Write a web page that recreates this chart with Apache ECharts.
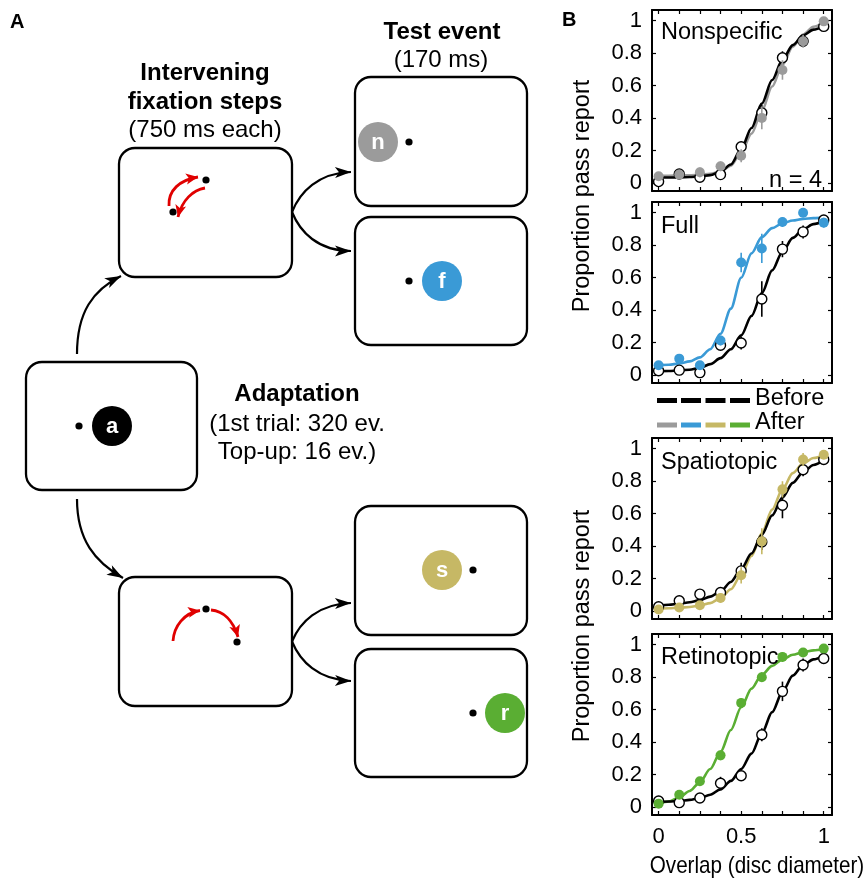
<!DOCTYPE html>
<html><head><meta charset="utf-8">
<script src="https://cdn.jsdelivr.net/npm/echarts@6/dist/echarts.min.js"></script>
<style>html,body{margin:0;padding:0;background:#fff}#c{width:867px;height:880px}</style>
</head><body><div id="c"></div>
<script>
// ---------- DATA ----------
const xLevels = [0, 0.125, 0.25, 0.375, 0.5, 0.625, 0.75, 0.875, 1];
const curveX = [0, 0.0625, 0.125, 0.1875, 0.25, 0.3125, 0.375, 0.4375, 0.5, 0.5625, 0.625, 0.6875, 0.75, 0.8125, 0.875, 0.9375, 1];
const xTickLabels = [0, 0.5, 1];
const yTickLabels = [0, 0.2, 0.4, 0.6, 0.8, 1];
const panelNames = ['Nonspecific', 'Full', 'Spatiotopic', 'Retinotopic'];
const afterColors = ['#9b9b9b', '#3a9ad6', '#c6b865', '#5aae33'];

const nonspecificBefore = [0.01, 0.057, 0.037, 0.053, 0.224, 0.433, 0.772, 0.874, 0.965];
const nonspecificBeforeErr = [0.01, 0.01, 0.01, 0.02, 0.03, 0.05, 0.04, 0.03, 0.01];
const nonspecificAfter = [0.043, 0.053, 0.067, 0.104, 0.169, 0.402, 0.697, 0.874, 0.996];
const nonspecificAfterErr = [0.01, 0.01, 0.03, 0.03, 0.04, 0.07, 0.06, 0.04, 0.01];
const nonspecificBeforeFit = [0.035, 0.035, 0.036, 0.038, 0.042, 0.05, 0.07, 0.115, 0.21, 0.34, 0.49, 0.635, 0.76, 0.85, 0.91, 0.945, 0.965];
const nonspecificAfterFit = [0.045, 0.046, 0.047, 0.049, 0.052, 0.058, 0.072, 0.108, 0.19, 0.305, 0.445, 0.595, 0.73, 0.84, 0.915, 0.963, 0.99];

const fullBefore = [0.027, 0.031, 0.016, 0.184, 0.198, 0.469, 0.776, 0.882, 0.955];
const fullBeforeErr = [0.01, 0.01, 0.01, 0.02, 0.04, 0.11, 0.05, 0.04, 0.02];
const fullAfter = [0.061, 0.102, 0.061, 0.214, 0.694, 0.78, 0.943, 1.0, 0.939];
const fullAfterErr = [0.02, 0.02, 0.02, 0.03, 0.06, 0.09, 0.03, 0.02, 0.03];
const fullBeforeFit = [0.025, 0.026, 0.029, 0.034, 0.045, 0.068, 0.105, 0.16, 0.245, 0.365, 0.505, 0.645, 0.76, 0.845, 0.898, 0.93, 0.949];
const fullAfterFit = [0.061, 0.064, 0.072, 0.085, 0.11, 0.16, 0.255, 0.41, 0.6, 0.75, 0.85, 0.905, 0.935, 0.952, 0.962, 0.967, 0.97];

const spatiotopicBefore = [0.027, 0.064, 0.105, 0.115, 0.248, 0.426, 0.652, 0.871, 0.934];
const spatiotopicBeforeErr = [0.01, 0.02, 0.02, 0.03, 0.05, 0.05, 0.08, 0.04, 0.03];
const spatiotopicAfter = [0.01, 0.023, 0.037, 0.082, 0.221, 0.43, 0.75, 0.934, 0.963];
const spatiotopicAfterErr = [0.01, 0.01, 0.01, 0.03, 0.05, 0.08, 0.05, 0.04, 0.02];
const spatiotopicBeforeFit = [0.035, 0.04, 0.046, 0.055, 0.068, 0.09, 0.122, 0.18, 0.26, 0.355, 0.47, 0.59, 0.7, 0.79, 0.855, 0.9, 0.93];
const spatiotopicAfterFit = [0.016, 0.018, 0.021, 0.026, 0.035, 0.05, 0.08, 0.135, 0.225, 0.34, 0.48, 0.625, 0.75, 0.85, 0.91, 0.943, 0.96];

const retinotopicBefore = [0.038, 0.028, 0.057, 0.147, 0.194, 0.446, 0.713, 0.875, 0.915];
const retinotopicBeforeErr = [0.01, 0.01, 0.02, 0.04, 0.02, 0.04, 0.06, 0.04, 0.02];
const retinotopicAfter = [0.022, 0.077, 0.16, 0.319, 0.642, 0.8, 0.925, 0.952, 0.976];
const retinotopicAfterErr = [0.01, 0.02, 0.02, 0.03, 0.03, 0.03, 0.03, 0.02, 0.01];
const retinotopicBeforeFit = [0.033, 0.035, 0.038, 0.045, 0.056, 0.077, 0.11, 0.162, 0.235, 0.33, 0.455, 0.585, 0.71, 0.81, 0.875, 0.91, 0.93];
const retinotopicAfterFit = [0.022, 0.035, 0.06, 0.1, 0.153, 0.235, 0.34, 0.475, 0.615, 0.73, 0.815, 0.87, 0.91, 0.938, 0.955, 0.965, 0.972];

// ---------- BUILD ----------
const panels = [
  {before: nonspecificBefore, beforeErr: nonspecificBeforeErr, after: nonspecificAfter, afterErr: nonspecificAfterErr, beforeFit: nonspecificBeforeFit, afterFit: nonspecificAfterFit},
  {before: fullBefore, beforeErr: fullBeforeErr, after: fullAfter, afterErr: fullAfterErr, beforeFit: fullBeforeFit, afterFit: fullAfterFit},
  {before: spatiotopicBefore, beforeErr: spatiotopicBeforeErr, after: spatiotopicAfter, afterErr: spatiotopicAfterErr, beforeFit: spatiotopicBeforeFit, afterFit: spatiotopicAfterFit},
  {before: retinotopicBefore, beforeErr: retinotopicBeforeErr, after: retinotopicAfter, afterErr: retinotopicAfterErr, beforeFit: retinotopicBeforeFit, afterFit: retinotopicAfterFit}
];
const FONT = '"Liberation Sans", Arial, Helvetica, sans-serif';
const gridTops = [10, 202, 438, 634];
const grids = [], xAxes = [], yAxes = [], series = [];

panels.forEach((p, i) => {
  grids.push({left: 652, top: gridTops[i], width: 180, height: 181, show: false});
  const lineSt = {color: '#000', width: 2};
  const tickSt = {color: '#000', width: 1.2};
  ['bottom', 'top'].forEach((pos, j) => {
    xAxes.push({
      type: 'value', gridIndex: i, position: pos, min: -0.04, max: 1.05,
      axisLine: {show: true, onZero: false, lineStyle: lineSt},
      axisTick: {show: true, inside: true, length: 4, lineStyle: tickSt, customValues: xLevels},
      axisLabel: {show: (i === 3 && j === 0), customValues: xTickLabels, margin: 11, color: '#000', fontSize: 22, fontFamily: FONT},
      splitLine: {show: false}
    });
  });
  ['left', 'right'].forEach((pos, j) => {
    yAxes.push({
      type: 'value', gridIndex: i, position: pos, min: -0.048, max: 1.066,
      axisLine: {show: true, onZero: false, lineStyle: lineSt},
      axisTick: {show: true, inside: true, length: 4, lineStyle: tickSt, customValues: yTickLabels},
      axisLabel: {show: j === 0, customValues: yTickLabels, margin: 10, color: '#000', fontSize: 22, fontFamily: FONT},
      splitLine: {show: false}
    });
  });
  const xi = 2 * i, yi = 2 * i;
  const col = afterColors[i];
  const fitSeries = (vals, color, z) => ({
    type: 'line', xAxisIndex: xi, yAxisIndex: yi, data: curveX.map((x, k) => [x, vals[k]]),
    smooth: 0.3, smoothMonotone: 'x', symbol: 'none', silent: true, z: z,
    lineStyle: {color: color, width: 2.6}
  });
  const errSeries = (vals, errs, color, z) => ({
    type: 'custom', xAxisIndex: xi, yAxisIndex: yi, silent: true, z: z,
    data: xLevels.map((x, k) => [x, vals[k] - errs[k], vals[k] + errs[k]]),
    encode: {x: 0, y: [1, 2]},
    renderItem: (params, api) => {
      const lo = api.coord([api.value(0), api.value(1)]);
      const hi = api.coord([api.value(0), api.value(2)]);
      return {type: 'line', shape: {x1: lo[0], y1: lo[1], x2: hi[0], y2: hi[1]}, style: {stroke: color, lineWidth: 1.6}};
    }
  });
  series.push(fitSeries(p.afterFit, col, 2));
  series.push(fitSeries(p.beforeFit, '#000', 2));
  series.push(errSeries(p.before, p.beforeErr, '#000', 3));
  series.push({type: 'scatter', xAxisIndex: xi, yAxisIndex: yi, silent: true, z: 4, symbol: 'circle', symbolSize: 10,
    data: xLevels.map((x, k) => [x, p.before[k]]), itemStyle: {color: '#fff', borderColor: '#000', borderWidth: 1.4, opacity: 1}});
  series.push(errSeries(p.after, p.afterErr, col, 5));
  series.push({type: 'scatter', xAxisIndex: xi, yAxisIndex: yi, silent: true, z: 6, symbol: 'circle', symbolSize: 10,
    data: xLevels.map((x, k) => [x, p.after[k]]), itemStyle: {color: col, opacity: 1}});
});

// ---------- GRAPHIC (panel A schematic + labels) ----------
const G = [];
function txt(t, x, y, size, bold, align, extra, color) {
  const o = {type: 'text', x: x, y: y, z: 10, silent: true,
    style: {text: t, font: (bold ? 'bold ' : '') + size + 'px ' + FONT, fill: color || '#000',
      textAlign: align || 'center', textVerticalAlign: 'middle', align: align || 'center', verticalAlign: 'middle'}};
  return Object.assign(o, extra || {});
}
function box(x1, y1, x2, y2) {
  G.push({type: 'rect', silent: true, z: 5, shape: {x: x1, y: y1, width: x2 - x1, height: y2 - y1, r: 16},
    style: {fill: 'none', stroke: '#000', lineWidth: 2.3}});
}
function dot(cx, cy) { G.push({type: 'circle', silent: true, z: 6, shape: {cx: cx, cy: cy, r: 3.6}, style: {fill: '#000'}}); }
function disc(cx, cy, color, letter) {
  G.push({type: 'circle', silent: true, z: 6, shape: {cx: cx, cy: cy, r: 20}, style: {fill: color}});
  G.push(txt(letter, cx, cy + 1, 22, true, 'center', null, '#fff'));
}
function arrowHead(tx, ty, fx, fy, len, hw, color) {
  const dx = tx - fx, dy = ty - fy, d = Math.hypot(dx, dy), ux = dx / d, uy = dy / d, px = -uy, py = ux;
  const bx = tx - ux * len, by = ty - uy * len;
  const nx = tx - ux * len * 0.75, ny = ty - uy * len * 0.75;
  G.push({type: 'polygon', silent: true, z: 7, shape: {points: [[tx, ty], [bx + px * hw, by + py * hw], [nx, ny], [bx - px * hw, by - py * hw]]}, style: {fill: color}});
}
function curveArrow(x1, y1, c1x, c1y, c2x, c2y, x2, y2, color, w, len, hw) {
  G.push({type: 'bezierCurve', silent: true, z: 6, shape: {x1: x1, y1: y1, cpx1: c1x, cpy1: c1y, cpx2: c2x, cpy2: c2y, x2: x2, y2: y2},
    style: {stroke: color, lineWidth: w, fill: 'none'}});
  arrowHead(x2, y2, c2x, c2y, len, hw, color);
}

// boxes
box(119, 148, 292, 277);      // intervening 1
box(119, 577, 292, 706);      // intervening 2
box(26, 362, 197, 490);       // adaptation
box(355, 77, 527, 206);       // test n
box(355, 217, 527, 345);      // test f
box(355, 506, 527, 635);      // test s
box(355, 649, 527, 777);      // test r

// adaptation content
dot(79, 426); disc(112, 426, '#000', 'a');
// test contents
disc(378, 142, '#9b9b9b', 'n'); dot(409, 142);
dot(409, 281); disc(442, 281, '#3a9ad6', 'f');
disc(442, 570, '#c6b865', 's'); dot(473, 570);
dot(473, 713); disc(505, 713, '#5aae33', 'r');

// intervening 1: dots + red arrows
dot(206, 180); dot(173, 212);
curveArrow(169, 206, 168, 190, 180, 180, 198, 177, '#e00000', 2.8, 12, 5.5);
curveArrow(205, 188, 193, 190, 182, 200, 178, 217, '#e00000', 2.8, 12, 5.5);
// intervening 2
dot(206, 609); dot(237, 642);
curveArrow(173, 641, 174, 626, 184, 613, 200, 610.5, '#e00000', 2.8, 12, 5.5);
curveArrow(211, 610, 223, 611, 233, 620, 238, 637, '#e00000', 2.8, 12, 5.5);

// black flow arrows
curveArrow(77, 354, 77, 312, 93, 290, 121, 276, '#000', 2.2, 16, 5.5);
curveArrow(77, 499, 77, 540, 95, 562, 123, 578, '#000', 2.2, 16, 5.5);
curveArrow(292, 212, 300, 192, 318, 173, 351, 172, '#000', 2.2, 16, 5.5);
curveArrow(292, 212, 300, 232, 318, 251, 351, 251, '#000', 2.2, 16, 5.5);
curveArrow(292, 641.5, 300, 622, 318, 604, 351, 603, '#000', 2.2, 16, 5.5);
curveArrow(292, 641.5, 300, 661, 318, 680, 351, 681, '#000', 2.2, 16, 5.5);

// panel A text
G.push(txt('A', 10, 22, 20, true, 'left'));
G.push(txt('Intervening', 205, 73, 24, true));
G.push(txt('fixation steps', 205, 102, 24, true));
G.push(txt('(750 ms each)', 205, 130, 24, false));
G.push(txt('Test event', 442, 32, 24, true));
G.push(txt('(170 ms)', 441, 60, 24, false));
G.push(txt('Adaptation', 297, 394, 24, true));
G.push(txt('(1st trial: 320 ev.', 297, 424, 24, false));
G.push(txt('Top-up: 16 ev.)', 297, 452, 24, false));

// panel B text
G.push(txt('B', 562, 20, 20, true, 'left'));
const labelY = [33, 227, 463, 658];
panelNames.forEach((n, i) => G.push(txt(n, 661, labelY[i], 23.5, false, 'left')));
G.push(txt('n = 4', 822, 181, 23.5, false, 'right'));
G.push(txt('Proportion pass report', 583, 196, 23.5, false, 'center', {rotation: Math.PI / 2}));
G.push(txt('Proportion pass report', 583, 626, 23.5, false, 'center', {rotation: Math.PI / 2}));
G.push(txt('Overlap (disc diameter)', 757, 866, 24, false, 'center', {scaleX: 0.86}));

// legend
const dashX = [657, 681, 705.5, 730];
dashX.forEach((x, k) => {
  G.push({type: 'rect', silent: true, z: 5, shape: {x: x, y: 398, width: 20, height: 5}, style: {fill: '#000'}});
  G.push({type: 'rect', silent: true, z: 5, shape: {x: x, y: 422.5, width: 20, height: 5}, style: {fill: afterColors[k]}});
});
G.push(txt('Before', 755, 399, 23.5, false, 'left'));
G.push(txt('After', 755, 423, 23.5, false, 'left'));

const chart = echarts.init(document.getElementById('c'), null, {renderer: 'canvas'});
chart.setOption({
  animation: false,
  backgroundColor: '#fff',
  grid: grids, xAxis: xAxes, yAxis: yAxes, series: series,
  graphic: {elements: G}
});
</script>
</body></html>
